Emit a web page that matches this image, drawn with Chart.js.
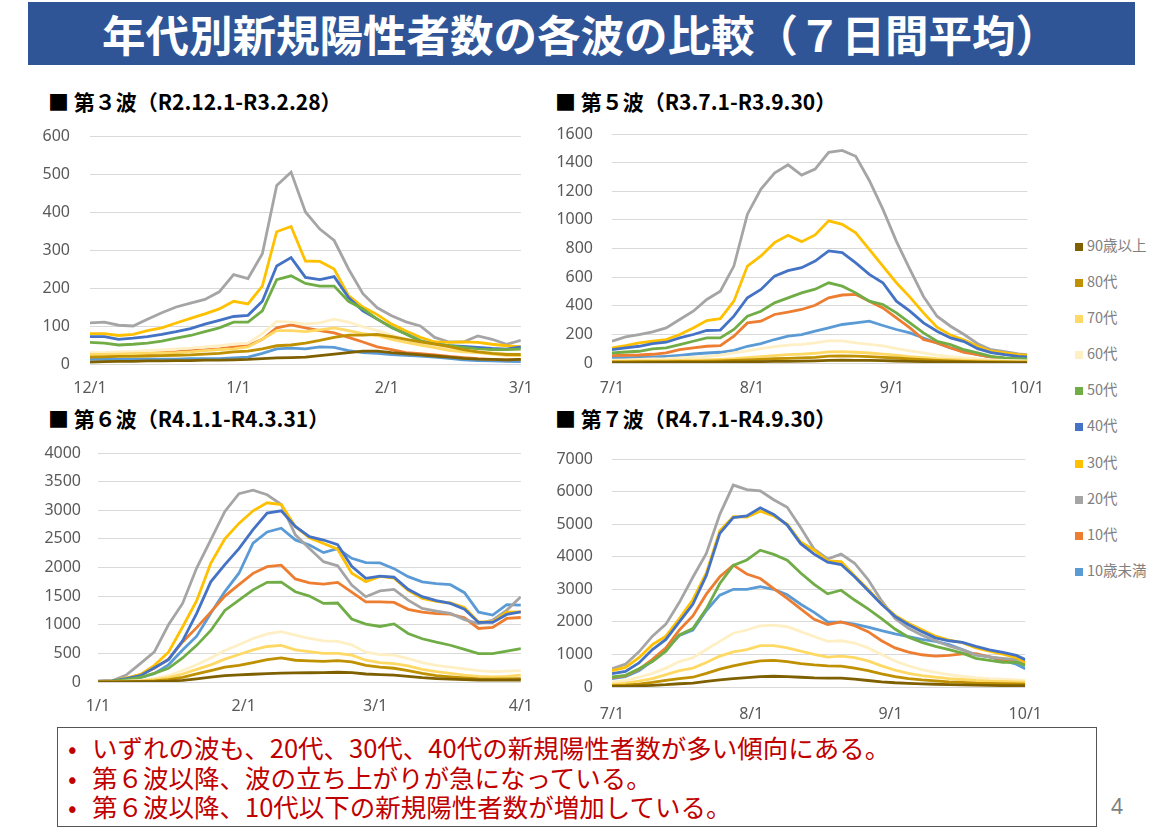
<!DOCTYPE html>
<html lang="ja">
<head>
<meta charset="utf-8">
<title>年代別新規陽性者数の各波の比較</title>
<script src="https://cdn.jsdelivr.net/npm/chart.js@4.4.1/dist/chart.umd.min.js"></script>
<style>
  html, body { margin: 0; padding: 0; background: #fff; }
  body { width: 1169px; height: 835px; position: relative; overflow: hidden;
         font-family: "Noto Sans CJK JP", "Noto Sans", sans-serif; }
  .banner { position: absolute; left: 28px; top: 2px; width: 1107px; height: 63px;
            background: #2F5597; color: #fff; font-weight: 700; font-size: 43.5px;
            line-height: 63px; text-align: center; padding-right: 2px; box-sizing: border-box; }
  .head { position: absolute; font-weight: 700; font-size: 21px; color: #000; line-height: 24px; }
  .panel { position: absolute; }
  .legend { position: absolute; left: 1075px; top: 237px; }
  .legend div { height: 36.1px; font-size: 14.5px; color: #808080; line-height: 16px; white-space: nowrap; }
  .legend span { display: inline-block; width: 8px; height: 8px; margin-right: 4px; vertical-align: 0px; }
  .box { position: absolute; left: 57px; top: 727px; width: 1040px; height: 100px;
         border: 1.5px solid #555; box-sizing: border-box; padding: 4px 0 0 10px; }
  .box p { margin: 0; font-size: 25.5px; line-height: 29.5px; color: #C00000; white-space: nowrap; }
  .box b { font-weight: 400; display: inline-block; width: 24px; }
  .pageno { position: absolute; left: 1111px; top: 792px; font-size: 21px; color: #7F7F7F;
            font-family: "Noto Sans", sans-serif; }
</style>
</head>
<body>
<div class="banner">年代別新規陽性者数の各波の比較（７日間平均）</div>

<div class="head" style="left:48px; top:89px;">■ 第３波（R2.12.1-R3.2.28）</div>
<div class="head" style="left:555px; top:89px;">■ 第５波（R3.7.1-R3.9.30）</div>
<div class="head" style="left:48px; top:406px;">■ 第６波（R4.1.1-R4.3.31）</div>
<div class="head" style="left:555px; top:406px;">■ 第７波（R4.7.1-R4.9.30）</div>

<div class="panel" style="left:30px; top:106px; width:510px; height:298px;"><canvas id="wave3"></canvas></div>
<div class="panel" style="left:552px; top:104px; width:500px; height:299px;"><canvas id="wave5"></canvas></div>
<div class="panel" style="left:38px; top:423px; width:502px; height:299px;"><canvas id="wave6"></canvas></div>
<div class="panel" style="left:552px; top:429px; width:500px; height:298px;"><canvas id="wave7"></canvas></div>

<div class="legend" id="legend"></div>

<div class="box">
  <p><b>•</b>いずれの波も、20代、30代、40代の新規陽性者数が多い傾向にある。</p>
  <p><b>•</b>第６波以降、波の立ち上がりが急になっている。</p>
  <p><b>•</b>第６波以降、10代以下の新規陽性者数が増加している。</p>
</div>
<div class="pageno">4</div>

<script>
// age groups, in legend order (top to bottom)
const ageGroups = ['90歳以上', '80代', '70代', '60代', '50代', '40代', '30代', '20代', '10代', '10歳未満'];
const ageColors = ['#7F6000', '#BF9000', '#FFD966', '#FFEFC4', '#70AD47', '#4472C4', '#FFC000', '#A5A5A5', '#ED7D31', '#5B9BD5'];

// days since start of wave, sampled every 3 days
const daysA = [0,3,6,9,12,15,18,21,24,27,30,33,36,39,42,45,48,51,54,57,60,63,66,69,72,75,78,81,84,87,90];
const daysB = [0,3,6,9,12,15,18,21,24,27,30,33,36,39,42,45,48,51,54,57,60,63,66,69,72,75,78,81,84,87,90,92];

// month ticks
const wave3TickDays = [0, 31, 62, 90];
const wave3TickLabels = ['12/1', '1/1', '2/1', '3/1'];
const wave5TickDays = [0, 31, 62, 92];
const wave5TickLabels = ['7/1', '8/1', '9/1', '10/1'];
const wave6TickDays = [0, 31, 59, 90];
const wave6TickLabels = ['1/1', '2/1', '3/1', '4/1'];
const wave7TickDays = [0, 31, 62, 92];
const wave7TickLabels = ['7/1', '8/1', '9/1', '10/1'];

// 第3波 R2.12.1-R3.2.28
const w3_90plus  = [5,6,7,7,8,8,9,9,10,10,11,12,14,16,17,18,22,26,30,34,34,30,27,24,21,18,15,13,12,11,12];
const w3_80s     = [18,19,20,20,21,22,23,24,26,28,32,34,40,48,50,55,62,70,76,76,78,72,65,58,52,46,38,32,28,25,25];
const w3_70s     = [25,25,26,27,28,29,30,32,35,38,40,45,65,88,88,85,90,95,88,80,75,65,57,50,43,36,32,30,26,23,22];
const w3_60s     = [30,30,32,33,35,37,40,42,45,48,52,55,80,112,110,105,108,118,110,98,88,76,65,55,48,40,36,33,30,27,25];
const w3_50s     = [57,55,50,52,55,60,68,75,85,95,110,110,140,222,232,212,205,205,165,145,118,96,79,61,52,48,44,39,38,38,39];
const w3_40s     = [72,72,65,68,72,78,85,93,105,115,125,128,165,258,280,228,222,230,175,140,118,96,79,61,52,48,46,44,41,39,45];
const w3_30s     = [80,80,75,78,88,95,108,120,132,145,165,158,205,348,362,271,270,250,180,150,130,105,87,70,58,57,58,57,52,48,45];
const w3_20s     = [108,110,102,100,118,135,150,160,170,190,235,225,290,470,505,400,355,325,250,185,148,127,111,100,70,58,58,74,65,52,62];
const w3_10s     = [20,20,22,25,27,30,32,35,37,40,45,48,65,95,103,95,88,82,70,58,45,38,30,27,24,20,17,14,12,11,12];
const w3_under10 = [12,12,12,12,13,13,13,14,14,14,16,18,28,40,42,40,45,44,35,30,28,25,23,21,18,15,11,9,8,7,6];

// 第5波 R3.7.1-R3.9.30
const w5_90plus  = [3,3,3,4,4,4,5,5,6,7,8,10,11,12,13,15,18,20,19,18,16,14,12,10,8,7,6,5,4,3,3,3];
const w5_80s     = [8,8,9,10,10,11,12,13,15,18,22,26,30,33,36,40,48,50,48,45,40,35,28,23,18,15,12,10,8,7,6,6];
const w5_70s     = [12,13,14,15,16,18,20,22,25,30,38,45,52,58,62,68,78,80,75,70,62,55,45,38,30,25,20,16,13,11,10,10];
const w5_60s     = [20,22,25,28,30,35,40,45,55,70,85,100,115,125,130,140,155,155,140,130,120,100,85,70,55,45,35,28,22,18,16,15];
const w5_50s     = [70,77,82,98,105,128,152,175,175,234,327,362,420,455,490,516,560,537,490,432,409,350,280,210,152,128,93,70,47,35,30,28];
const w5_40s     = [93,105,117,135,145,175,199,227,230,327,456,514,607,645,666,712,783,771,700,619,561,432,362,280,222,175,150,100,72,58,47,42];
const w5_30s     = [105,121,140,152,164,199,245,297,310,432,677,748,841,892,848,895,993,969,910,794,677,561,460,350,250,195,160,117,82,70,58,54];
const w5_20s     = [152,182,199,217,245,304,362,444,502,677,1040,1215,1327,1385,1313,1355,1472,1485,1444,1275,1075,850,654,465,327,257,199,135,93,80,63,58];
const w5_10s     = [51,54,56,61,70,93,105,117,121,187,280,292,339,355,374,403,455,475,479,432,385,315,245,164,140,105,75,58,42,33,28,28];
const w5_under10 = [35,37,40,42,47,54,63,70,75,89,117,135,164,187,199,222,245,269,280,292,262,234,210,175,140,105,82,58,42,33,28,23];

// 第6波 R4.1.1-R4.3.31
const w6_90plus  = [0,1,2,5,8,15,30,55,85,110,125,135,145,155,160,162,165,170,165,140,130,120,100,75,60,50,42,35,32,33,35];
const w6_80s     = [1,2,5,10,20,40,80,140,200,260,290,340,390,420,380,370,360,375,350,290,260,240,200,150,110,90,70,55,50,55,60];
const w6_70s     = [2,4,10,20,40,75,140,220,300,400,480,560,620,640,560,530,500,500,470,380,340,320,280,220,180,150,120,100,90,100,120];
const w6_60s     = [3,5,15,30,60,110,200,300,420,550,650,760,840,880,820,760,720,710,650,520,480,470,410,340,290,260,230,200,180,190,200];
const w6_50s     = [8,15,40,80,150,240,420,640,900,1250,1430,1610,1740,1745,1577,1500,1372,1380,1100,1010,970,1015,847,755,695,642,570,496,496,540,584];
const w6_40s     = [10,20,60,110,250,390,720,1200,1750,2050,2330,2660,2950,2990,2716,2540,2480,2400,2020,1810,1850,1830,1620,1490,1420,1372,1270,1040,1040,1180,1226];
const w6_30s     = [10,20,70,130,290,520,960,1420,2073,2500,2770,2990,3130,3100,2716,2520,2420,2320,1900,1752,1845,1815,1600,1460,1410,1380,1300,1050,1050,1220,1226];
const w6_20s     = [20,20,120,321,526,1000,1372,1990,2482,2980,3290,3350,3270,3100,2570,2330,2102,2030,1694,1489,1590,1618,1430,1285,1240,1197,1090,1022,1080,1256,1489];
const w6_10s     = [10,20,60,130,240,400,700,950,1220,1500,1700,1898,2015,2040,1800,1730,1711,1740,1570,1400,1400,1390,1270,1220,1195,1186,1120,935,955,1110,1127];
const w6_under10 = [5,10,30,70,150,300,560,800,1200,1580,1900,2424,2620,2686,2482,2394,2260,2330,2160,2085,2080,1980,1840,1750,1720,1700,1560,1220,1170,1350,1343];

// 第7波 R4.7.1-R4.9.30
const w7_90plus  = [15,20,35,50,70,100,120,170,220,260,290,320,330,320,300,280,270,270,240,200,160,130,110,95,85,75,65,55,50,45,40,38];
const w7_80s     = [40,60,90,140,200,260,300,420,550,650,730,800,820,780,720,680,650,640,580,500,400,320,260,220,190,160,140,120,110,100,95,90];
const w7_70s     = [80,120,180,260,380,500,580,750,950,1080,1150,1270,1270,1200,1100,1000,920,950,900,800,650,520,420,350,300,260,230,200,180,170,160,150];
const w7_60s     = [150,200,300,420,580,780,900,1150,1400,1650,1750,1880,1900,1850,1700,1550,1400,1420,1350,1200,1000,800,650,530,450,380,330,290,260,240,220,200];
const w7_50s     = [307,360,560,780,1100,1600,1794,2400,3178,3730,3900,4200,4070,3895,3500,3150,2860,2970,2670,2400,2100,1780,1530,1370,1250,1145,1040,880,820,760,760,666];
const w7_40s     = [410,480,740,1150,1460,2000,2540,3420,4715,5200,5250,5500,5300,4971,4400,4080,3830,3760,3383,2960,2540,2170,1910,1700,1510,1420,1370,1250,1140,1060,970,841];
const w7_30s     = [500,600,900,1300,1560,2100,2680,3500,4800,5230,5220,5400,5250,5000,4450,4200,3870,3850,3420,3000,2560,2200,1960,1760,1560,1440,1360,1200,1100,1010,900,760];
const w7_20s     = [564,700,1080,1560,1930,2600,3370,4100,5300,6200,6060,6020,5750,5520,4900,4230,3930,4080,3800,3300,2650,2100,1800,1590,1420,1260,1140,985,925,880,840,769];
const w7_10s     = [287,340,540,850,1200,1750,2180,2850,3383,3740,3470,3330,3020,2720,2400,2080,1920,2000,1880,1700,1420,1200,1070,990,950,970,1020,1025,925,850,800,697];
const w7_under10 = [256,320,500,800,1150,1580,1743,2350,2819,3000,3000,3080,3000,2830,2540,2290,2000,1990,1930,1840,1730,1630,1550,1460,1400,1300,1150,985,925,820,700,564];

const wave3Series = [w3_90plus, w3_80s, w3_70s, w3_60s, w3_50s, w3_40s, w3_30s, w3_20s, w3_10s, w3_under10];
const wave5Series = [w5_90plus, w5_80s, w5_70s, w5_60s, w5_50s, w5_40s, w5_30s, w5_20s, w5_10s, w5_under10];
const wave6Series = [w6_90plus, w6_80s, w6_70s, w6_60s, w6_50s, w6_40s, w6_30s, w6_20s, w6_10s, w6_under10];
const wave7Series = [w7_90plus, w7_80s, w7_70s, w7_60s, w7_50s, w7_40s, w7_30s, w7_20s, w7_10s, w7_under10];

const tickFont = { family: "'Noto Sans', sans-serif", size: 16 };
const tickColor = '#595959';

function makeChart(id, days, series, xMax, tickDays, tickLabels, yMax, yStep, yPad, xPad) {
  const datasets = ageGroups.map((name, i) => ({
    label: name,
    data: days.map((d, j) => ({ x: d, y: series[i][j] })),
    borderColor: ageColors[i],
    backgroundColor: ageColors[i],
    borderWidth: 2.8,
    pointRadius: 0,
    fill: false
  }));

  new Chart(document.getElementById(id), {
    type: 'line',
    data: { datasets: datasets },
    options: {
      responsive: true,
      maintainAspectRatio: false,
      animation: false,
      // top padding is larger than the y label overhang so the plot top is fixed
      layout: { padding: { top: 30, right: 12, bottom: 0, left: 0 } },
      plugins: { legend: { display: false }, tooltip: { enabled: false } },
      scales: {
        x: {
          type: 'linear', min: 0, max: xMax,
          afterBuildTicks: scale => { scale.ticks = tickDays.map(v => ({ value: v })); },
          afterFit: scale => { scale.height = 40; },
          ticks: {
            callback: (value, index) => tickLabels[index],
            autoSkip: false, maxRotation: 0, padding: xPad,
            color: tickColor, font: tickFont
          },
          grid: { display: false },
          border: { display: false }
        },
        y: {
          min: 0, max: yMax,
          afterFit: scale => { scale.width = 60; },
          ticks: { stepSize: yStep, padding: yPad, color: tickColor, font: tickFont,
                   callback: v => String(v) },
          grid: { color: '#D9D9D9', drawTicks: false },
          border: { display: false }
        }
      }
    }
  });
}

makeChart('wave3', daysA, wave3Series, 90, wave3TickDays, wave3TickLabels, 600, 100, 20, 7);
makeChart('wave5', daysB, wave5Series, 92, wave5TickDays, wave5TickLabels, 1600, 200, 19, 8);
makeChart('wave6', daysA, wave6Series, 90, wave6TickDays, wave6TickLabels, 4000, 500, 17, 7);
makeChart('wave7', daysB, wave7Series, 92, wave7TickDays, wave7TickLabels, 7000, 1000, 19, 10);

// legend
const legendBox = document.getElementById('legend');
ageGroups.forEach((name, i) => {
  const row = document.createElement('div');
  row.innerHTML = '<span style="background:' + ageColors[i] + '"></span>' + name;
  legendBox.appendChild(row);
});
</script>
</body>
</html>
